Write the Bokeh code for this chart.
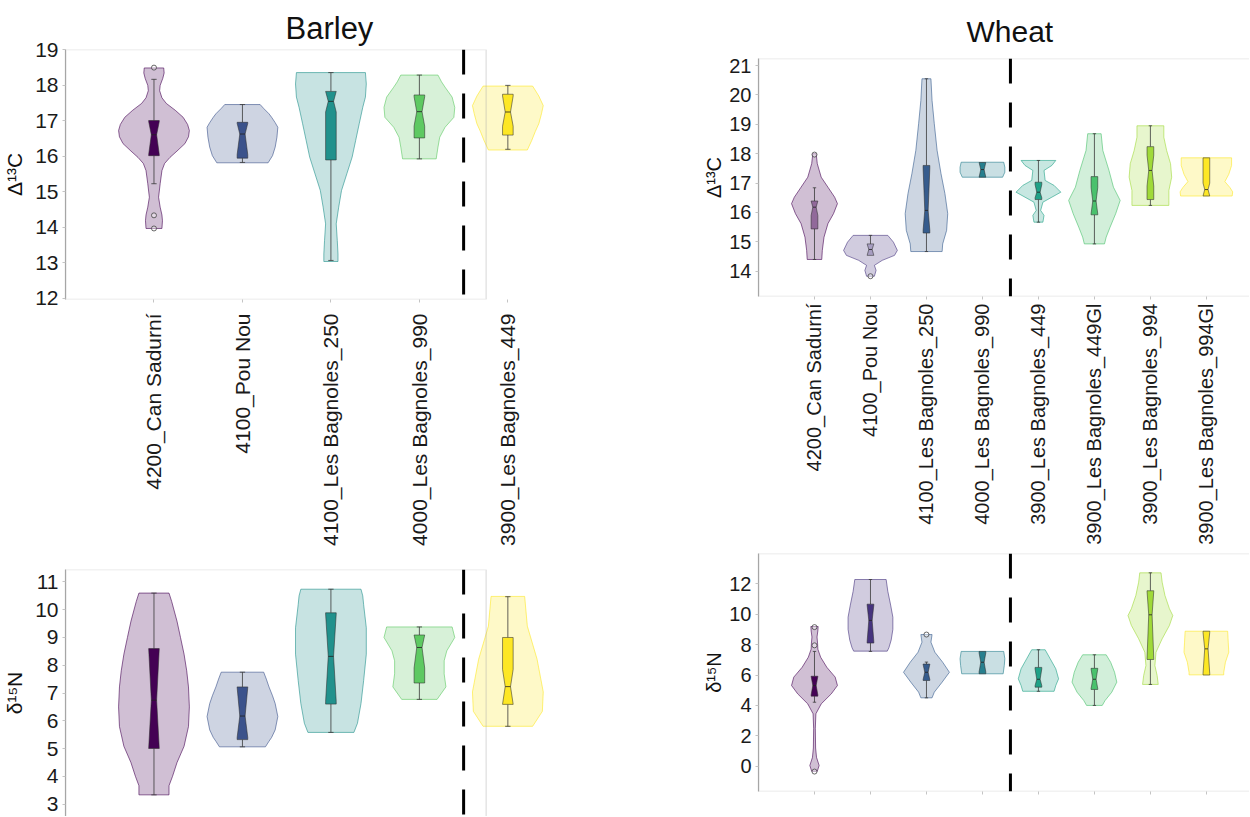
import math
from bokeh.plotting import figure
from bokeh.models import (Range1d, FixedTicker, SingleIntervalTicker, BoxAnnotation,
                          Span, Title)
from bokeh.layouts import row, column
from bokeh.embed import file_html
from bokeh.resources import INLINE

# ---------------- data ----------------
barley_sites = ["4200_Can Sadurní", "4100_Pou Nou", "4100_Les Bagnoles_250",
                "4000_Les Bagnoles_990", "3900_Les Bagnoles_449"]
wheat_sites = ["4200_Can Sadurní", "4100_Pou Nou", "4100_Les Bagnoles_250",
               "4000_Les Bagnoles_990", "3900_Les Bagnoles_449", "3900_Les Bagnoles_449Gl",
               "3900_Les Bagnoles_994", "3900_Les Bagnoles_994Gl"]

barley_colors = ["#440154", "#3B528B", "#21918C", "#5EC962", "#FDE725"]
wheat_colors = ["#440154", "#46337E", "#365C8D", "#277F8E", "#1FA187",
                "#4AC16D", "#A0DA39", "#FDE725"]

# violin outlines: (value, density half-width in category units)
barley_d13c_violins = [
    [(18.49, .11), (18.35, .115), (18.2, .10), (18.0, .07), (17.85, .064), (17.65, .09),
     (17.49, .14), (17.3, .24), (17.1, .33), (16.9, .38), (16.73, .40), (16.55, .39),
     (16.36, .35), (16.15, .26), (15.97, .18), (15.8, .12), (15.6, .09), (15.23, .07),
     (14.85, .052), (14.57, .07), (14.35, .09), (14.19, .096), (13.97, .09)],
    [(17.46, .20), (17.35, .24), (17.2, .30), (17.1, .33), (16.95, .37), (16.82, .40),
     (16.54, .39), (16.26, .37), (16.02, .34), (15.9, .31), (15.82, .29)],
    [(18.36, .39), (18.04, .40), (17.67, .39), (17.38, .36), (16.92, .32), (16.45, .28),
     (15.98, .24), (15.51, .18), (15.04, .12), (14.57, .088), (14.1, .06), (13.63, .072),
     (13.25, .08), (13.04, .08)],
    [(18.29, .21), (18.1, .25), (17.95, .29), (17.67, .37), (17.38, .40), (17.1, .39),
     (16.82, .29), (16.54, .23), (16.26, .21), (15.93, .19)],
    [(17.98, .28), (17.7, .35), (17.43, .40), (17.2, .38), (16.92, .35), (16.7, .31),
     (16.45, .27), (16.18, .22)],
]
barley_d15n_violins = [
    [(10.60, .17), (10.3, .20), (9.59, .26), (9.0, .30), (8.40, .34), (7.8, .37),
     (7.22, .39), (6.50, .40), (5.79, .39), (5.08, .34), (4.49, .26), (4.0, .21),
     (3.66, .17), (3.33, .17)],
    [(7.75, .24), (7.5, .27), (7.22, .30), (6.9, .34), (6.62, .37), (6.15, .40),
     (5.67, .37), (5.4, .33), (5.26, .30), (5.06, .26)],
    [(10.74, .34), (10.5, .36), (10.18, .37), (9.35, .40), (8.40, .40), (7.45, .37),
     (6.62, .34), (5.91, .30), (5.58, .26)],
    [(9.38, .37), (9.0, .40), (8.52, .31), (8.16, .28), (7.69, .28), (7.22, .30),
     (6.86, .22), (6.77, .20)],
    [(10.48, .19), (9.41, .22), (8.22, .33), (7.04, .40), (6.34, .39), (5.8, .28)],
]
wheat_d13c_violins = [
    [(18.0, .03), (17.66, .05), (17.2, .12), (16.86, .24), (16.52, .36), (16.3, .41),
     (15.96, .34), (15.62, .24), (15.16, .17), (14.71, .14), (14.4, .13)],
    [(15.22, .31), (14.99, .41), (14.71, .48), (14.54, .43), (14.37, .21), (14.2, .07),
     (14.03, .10), (13.83, .07)],
    [(20.55, .08), (19.81, .10), (19.02, .14), (18.11, .19), (17.32, .26), (16.64, .33),
     (15.96, .38), (15.39, .36), (14.93, .29), (14.67, .28)],
    [(17.71, .38), (17.54, .40), (17.37, .40), (17.2, .36)],
    [(17.77, .31), (17.6, .24), (17.43, .10), (17.09, .12), (16.92, .28), (16.69, .40),
     (16.52, .24), (16.35, .08), (16.07, .04), (15.9, .10), (15.67, .08)],
    [(18.68, .12), (18.11, .15), (17.43, .26), (16.86, .34), (16.41, .46), (15.96, .38),
     (15.5, .28), (15.16, .21), (14.93, .18)],
    [(18.95, .24), (18.56, .24), (18.11, .29), (17.66, .36), (17.2, .38), (16.75, .33),
     (16.41, .33), (16.24, .33)],
    [(17.86, .45), (17.6, .45), (17.3, .40), (17.05, .33), (16.85, .42), (16.7, .47),
     (16.56, .46)],
]
wheat_d15n_violins = [
    [(9.19, .065), (8.9, .06), (8.5, .045), (8.1, .055), (7.7, .06), (7.17, .11),
     (6.51, .22), (5.86, .37), (5.31, .41), (4.76, .30), (4.1, .12), (3.45, .025),
     (2.5, .015), (1.2, .02), (0.59, .036), (0.05, .083), (-0.33, .05)],
    [(12.28, .28), (11.5, .31), (10.6, .36), (9.8, .40), (9.0, .40), (8.3, .37),
     (7.8, .33), (7.57, .30)],
    [(8.66, .10), (8.16, .08), (7.5, .15), (6.84, .29), (6.18, .41), (5.53, .28),
     (4.87, .14), (4.5, .10)],
    [(7.55, .38), (7.07, .40), (6.62, .39), (6.08, .37)],
    [(7.66, .12), (7.07, .21), (6.41, .31), (5.75, .36), (5.31, .31), (4.93, .28)],
    [(7.33, .21), (6.84, .29), (6.18, .36), (5.53, .40), (4.87, .31), (4.32, .19), (4.0, .14)],
    [(12.72, .19), (12.1, .21), (11.23, .26), (10.36, .34), (9.91, .40), (9.26, .34),
     (8.38, .21), (7.5, .10), (6.62, .08), (5.97, .12), (5.38, .14)],
    [(8.88, .38), (8.16, .39), (7.5, .40), (6.84, .34), (6.18, .31), (6.01, .31)],
]

# box statistics: (whisker low, q1, median, q3, whisker high, notch low, notch high)
barley_d13c_boxes = [
    (15.23, 16.02, 16.61, 17.01, 18.17, 16.05, 16.98),
    (15.83, 15.95, 16.63, 16.96, 17.46, 16.05, 16.93),
    (13.07, 15.90, 17.55, 17.83, 18.36, 17.25, 17.83),
    (15.93, 16.52, 17.26, 17.73, 18.29, 16.85, 17.68),
    (16.20, 16.60, 17.25, 17.75, 18.00, 16.85, 17.70),
]
barley_d15n_boxes = [
    (3.33, 5.00, 6.74, 8.60, 10.60, 5.00, 8.60),
    (5.06, 5.32, 6.17, 7.22, 7.75, 5.40, 7.20),
    (5.58, 6.60, 8.32, 9.89, 10.74, 6.70, 9.85),
    (6.77, 7.36, 8.64, 9.09, 9.38, 7.90, 9.09),
    (5.80, 6.59, 7.23, 9.00, 10.47, 6.60, 7.85),
]
wheat_d13c_boxes = [
    (14.40, 15.44, 16.18, 16.39, 16.84, 15.90, 16.39),
    (14.54, 14.54, 14.74, 14.93, 15.22, 14.54, 14.93),
    (14.67, 15.30, 16.07, 17.60, 20.55, 15.40, 17.50),
    (17.20, 17.20, 17.46, 17.70, 17.70, 17.20, 17.70),
    (15.67, 16.44, 16.69, 17.03, 17.77, 16.50, 16.95),
    (14.93, 15.92, 16.39, 17.22, 18.68, 15.95, 16.85),
    (16.24, 16.44, 17.43, 18.24, 18.95, 16.90, 17.95),
    (16.56, 16.56, 16.78, 17.86, 17.86, 16.56, 17.00),
]
wheat_d15n_boxes = [
    (4.21, 4.61, 5.31, 5.92, 7.55, 4.70, 5.90),
    (7.55, 8.10, 9.59, 10.66, 12.28, 8.20, 10.60),
    (4.50, 5.64, 6.18, 6.72, 6.85, 5.70, 6.70),
    (6.08, 6.08, 6.84, 7.55, 7.55, 6.20, 7.45),
    (4.93, 5.20, 5.72, 6.50, 7.66, 5.30, 6.40),
    (4.00, 5.05, 5.72, 6.44, 7.33, 5.10, 6.40),
    (5.38, 7.02, 9.96, 11.54, 12.72, 7.10, 11.50),
    (6.00, 6.00, 7.72, 8.88, 8.88, 6.10, 8.80),
]

barley_d13c_outliers = [[18.50, 14.34, 13.97], [], [], [], []]
barley_d15n_outliers = [[], [], [], [], []]
wheat_d13c_outliers = [[17.97], [13.83], [], [], [], [], [], []]
wheat_d15n_outliers = [[9.15, 7.95, -0.35], [], [8.66], [], [], [], [], []]

# ---------------- styles ----------------
FONT = "Liberation Sans"
FRAME = "#a6a6a6"
TICK = "#c4c4c4"
barley_box_alpha = [1, 1, 1, 1, 1]
wheat_d13c_box_alpha = [0.45, 0.3, 1, 1, 1, 1, 1, 1]
wheat_d15n_box_alpha = [1, 1, 1, 1, 1, 1, 1, 1]


def make_fig(width, height, xr, yr, borders, with_xaxis=True):
    l, r, t, b = borders
    p = figure(width=width, height=height, x_range=Range1d(*xr), y_range=Range1d(*yr),
               output_backend="svg", toolbar_location=None,
               min_border_left=l, min_border_right=r, min_border_top=t, min_border_bottom=b,
               x_axis_location="below" if with_xaxis else None)
    p.outline_line_color = None
    p.xgrid.visible = False
    p.ygrid.visible = False
    p.background_fill_color = "white"
    p.border_fill_color = "white"
    return p


def style_yaxis(p, label, interval, font_size, label_size, label_standoff):
    ax = p.yaxis[0]
    ax.ticker = SingleIntervalTicker(interval=interval, num_minor_ticks=0)
    ax.axis_label = label
    ax.axis_label_text_font = FONT
    ax.axis_label_text_font_size = label_size
    ax.axis_label_text_font_style = "normal"
    ax.axis_label_text_color = "#111111"
    ax.axis_label_standoff = label_standoff
    ax.major_label_text_font = FONT
    ax.major_label_text_font_size = font_size
    ax.major_label_text_color = "#1a1a1a"
    ax.major_label_standoff = 4
    ax.major_tick_out = 3
    ax.major_tick_in = 0
    ax.major_tick_line_color = TICK
    ax.minor_tick_line_color = None
    ax.axis_line_color = FRAME
    ax.axis_line_width = 1.2


def style_xaxis(p, sites, font_size, standoff, show_labels=True):
    ax = p.xaxis[0]
    ax.ticker = FixedTicker(ticks=[i + 1 for i in range(len(sites))])
    if show_labels:
        ax.major_label_overrides = {i + 1: s for i, s in enumerate(sites)}
    else:
        ax.major_label_overrides = {i + 1: "" for i in range(len(sites))}
    ax.major_label_orientation = math.pi / 2
    ax.major_label_text_font = FONT
    ax.major_label_text_font_size = font_size
    ax.major_label_text_color = "#1a1a1a"
    ax.major_label_standoff = standoff
    ax.major_tick_out = 3
    ax.major_tick_in = 0
    ax.major_tick_line_color = TICK
    ax.minor_tick_line_color = None
    ax.axis_line_color = None


def draw_panel(p, violins, boxes, outliers, colors, box_alpha):
    vx, vy = [], []
    for i, prof in enumerate(violins):
        pos = i + 1
        ys = [v for v, _ in prof]
        ws = [w for _, w in prof]
        vx.append([pos + w for w in ws] + [pos - w for w in reversed(ws)])
        vy.append(ys + ys[::-1])
    p.patches(vx, vy, fill_color=colors, fill_alpha=0.25, line_color=colors,
              line_alpha=0.6, line_width=1)

    w, wn, cap = 0.06, 0.03, 0.03
    bx, by = [], []
    sx0, sy0, sx1, sy1 = [], [], [], []
    mx0, mx1, my = [], [], []
    for i, (lo, q1, med, q3, hi, nlo, nhi) in enumerate(boxes):
        pos = i + 1
        bx.append([pos - w, pos + w, pos + w, pos + wn, pos + w, pos + w,
                   pos - w, pos - w, pos - wn, pos - w])
        by.append([q1, q1, nlo, med, nhi, q3, q3, nhi, med, nlo])
        if q1 > lo:
            sx0 += [pos, pos - cap]; sy0 += [lo, lo]; sx1 += [pos, pos + cap]; sy1 += [q1, lo]
        if hi > q3:
            sx0 += [pos, pos - cap]; sy0 += [q3, hi]; sx1 += [pos, pos + cap]; sy1 += [hi, hi]
        mx0.append(pos - wn); mx1.append(pos + wn); my.append(med)
    p.segment(sx0, sy0, sx1, sy1, line_color="#3a3a3a", line_alpha=0.8, line_width=1)
    p.patches(bx, by, fill_color=colors, fill_alpha=box_alpha, line_color="#2b2b2b",
              line_alpha=0.6, line_width=0.9)
    p.segment(mx0, my, mx1, my, line_color="#222222", line_alpha=0.8, line_width=1)

    ox, oy = [], []
    for i, vals in enumerate(outliers):
        ox += [i + 1] * len(vals)
        oy += vals
    p.scatter(ox, oy, marker="circle", size=5, fill_color="white", fill_alpha=0.4,
              line_color="#444444", line_alpha=0.8, line_width=1)


def separator(p):
    p.add_layout(Span(location=4.5, dimension="height", line_color="black",
                      line_width=3, line_dash="25 19"))


BX = 88.75   # px per barley category
WX = 56.1    # px per wheat category

# Barley d13C
pA = make_fig(700, 559, (0, 637 / BX), (11.97, 19.01), (63, 0, 49, 260))
style_yaxis(pA, "Δ¹³C", 1, "21px", "21px", 6)
style_xaxis(pA, barley_sites, "21px", 11)
draw_panel(pA, barley_d13c_violins, barley_d13c_boxes, barley_d13c_outliers,
           barley_colors, barley_box_alpha)
pA.add_layout(BoxAnnotation(right=422 / BX, fill_alpha=0, line_color=FRAME, line_width=1.5))
separator(pA)
pA.add_layout(Title(text="Barley", align="left", offset=220, text_font=FONT,
                    text_font_size="31px", text_font_style="normal", standoff=8,
                    text_color="#111111"), "above")

# Barley d15N
pB = make_fig(700, 257, (0, 637 / BX), (2.55, 11.45), (63, 0, 10, 0), with_xaxis=False)
style_yaxis(pB, "δ¹⁵N", 1, "21px", "21px", 6)
draw_panel(pB, barley_d15n_violins, barley_d15n_boxes, barley_d15n_outliers,
           barley_colors, barley_box_alpha)
pB.add_layout(BoxAnnotation(right=422 / BX, bottom=-100, fill_alpha=0, line_color=FRAME,
                            line_width=1.5))
separator(pB)

# Wheat d13C
pC = make_fig(549, 548, (0, 492 / WX), (13.14, 21.24), (57, 0, 58, 252))
style_yaxis(pC, "Δ¹³C", 1, "20px", "20px", 1)
style_xaxis(pC, wheat_sites, "20px", 4)
draw_panel(pC, wheat_d13c_violins, wheat_d13c_boxes, wheat_d13c_outliers,
           wheat_colors, wheat_d13c_box_alpha)
pC.add_layout(BoxAnnotation(right=100, fill_alpha=0, line_color=FRAME, line_width=1.5))
separator(pC)
pC.add_layout(Title(text="Wheat", align="left", offset=208, text_font=FONT,
                    text_font_size="30px", text_font_style="normal", standoff=21,
                    text_color="#111111"), "above")

# Wheat d15N
pD = make_fig(549, 253, (0, 492 / WX), (-1.66, 13.99), (57, 0, 5, 10))
style_yaxis(pD, "δ¹⁵N", 2, "20px", "20px", 1)
style_xaxis(pD, wheat_sites, "20px", 4, show_labels=False)
draw_panel(pD, wheat_d15n_violins, wheat_d15n_boxes, wheat_d15n_outliers,
           wheat_colors, wheat_d15n_box_alpha)
pD.add_layout(BoxAnnotation(right=100, fill_alpha=0, line_color=FRAME, line_width=1.5))
separator(pD)

layout = row(column(pA, pB), column(pC, pD))
open("out.html", "w").write(file_html(layout, INLINE))
